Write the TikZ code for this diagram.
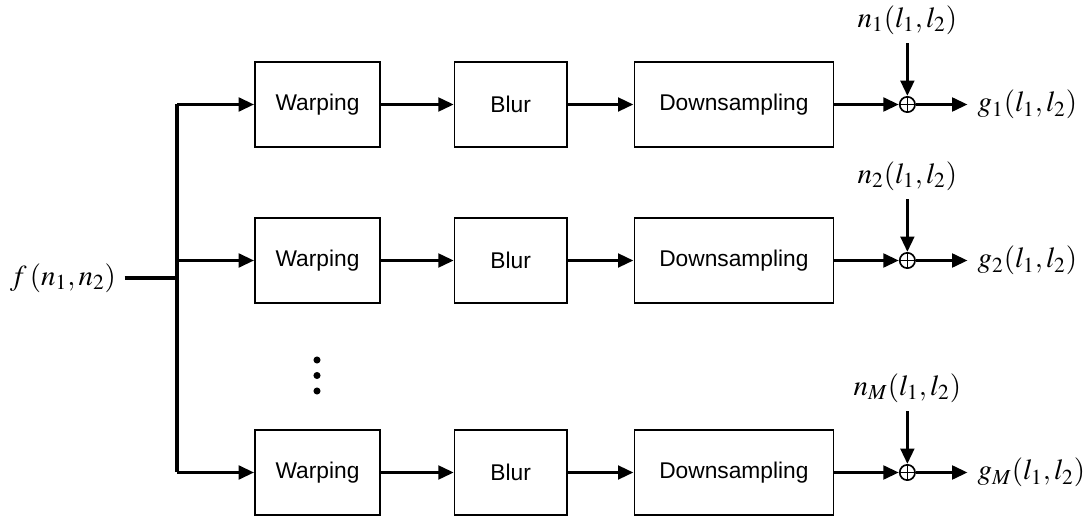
\documentclass[tikz,border=0pt]{standalone}
\usepackage{mathptmx}
\usepackage[no-math]{fontspec}
\newfontfamily\blockfont{Liberation Sans}
\usetikzlibrary{positioning,arrows.meta}

\begin{document}
\begin{tikzpicture}[x=0.017cm, y=-0.017cm, line width=1.7pt,
    block/.style = {draw, line width=0.8pt, minimum height=1.445cm, font=\blockfont\fontsize{11}{13}\selectfont},
    sum/.style = {draw, circle, line width=0.8pt, minimum size=0.26cm, inner sep=0pt,
        path picture={\draw[line width=0.8pt] (path picture bounding box.north) -- (path picture bounding box.south)
            (path picture bounding box.west) -- (path picture bounding box.east);}},
    sig/.style = {font=\fontsize{14}{16}\selectfont},
    arr/.style = {-{Triangle[length=7.5pt,width=6.5pt]}}]
    \useasboundingbox (0,0) rectangle (1087,518);

    % input and splitting line
    \node[sig] (f) at (63,278) {$f\,(n_1,n_2)$};
    \coordinate (jn) at (177,278);

    % branch 1
    \node[block, minimum width=2.125cm] (w1) at (317.5,104.5) {Warping};
    \node[block, minimum width=1.904cm, right=1.241cm of w1] (b1) {Blur};
    \node[block, minimum width=3.383cm, right=1.122cm of b1] (d1) {Downsampling};
    \node[sum, right=1.1cm of d1] (s1) {};
    \node[sig, above=0.901cm of s1] (n1) {$n_1(l_1,l_2)$};
    \node[sig, right=0.88cm of s1, inner xsep=4pt] (g1) {$g_1(l_1,l_2)$};

    % branch 2
    \node[block, minimum width=2.125cm] (w2) at (317.5,260.5) {Warping};
    \node[block, minimum width=1.904cm, right=1.241cm of w2] (b2) {Blur};
    \node[block, minimum width=3.383cm, right=1.122cm of b2] (d2) {Downsampling};
    \node[sum, right=1.1cm of d2] (s2) {};
    \node[sig, above=0.901cm of s2] (n2) {$n_2(l_1,l_2)$};
    \node[sig, right=0.88cm of s2, inner xsep=4pt] (g2) {$g_2(l_1,l_2)$};

    % branch M
    \node[block, minimum width=2.125cm] (w3) at (317.5,472.5) {Warping};
    \node[block, minimum width=1.904cm, right=1.241cm of w3] (b3) {Blur};
    \node[block, minimum width=3.383cm, right=1.122cm of b3] (d3) {Downsampling};
    \node[sum, right=1.1cm of d3] (s3) {};
    \node[sig, above=0.901cm of s3] (n3) {$n_M(l_1,l_2)$};
    \node[sig, right=0.88cm of s3, inner xsep=4pt] (g3) {$g_M(l_1,l_2)$};

    % dots
    \fill (317,360) circle (0.06cm) (317,375.5) circle (0.06cm) (317,391) circle (0.06cm);

    \draw (f) -- (jn);
    \draw (w1.west -| jn) -- (w3.west -| jn);
    \draw[arr] (w1.west -| jn) -- (w1);
    \draw[arr] (w2.west -| jn) -- (w2);
    \draw[arr] (w3.west -| jn) -- (w3);

    \draw[arr] (w1) -- (b1);
    \draw[arr] (b1) -- (d1);
    \draw[arr] (d1) -- (s1);
    \draw[arr] (n1) -- (s1);
    \draw[arr] (s1) -- (g1);

    \draw[arr] (w2) -- (b2);
    \draw[arr] (b2) -- (d2);
    \draw[arr] (d2) -- (s2);
    \draw[arr] (n2) -- (s2);
    \draw[arr] (s2) -- (g2);

    \draw[arr] (w3) -- (b3);
    \draw[arr] (b3) -- (d3);
    \draw[arr] (d3) -- (s3);
    \draw[arr] (n3) -- (s3);
    \draw[arr] (s3) -- (g3);
\end{tikzpicture}
\end{document}
